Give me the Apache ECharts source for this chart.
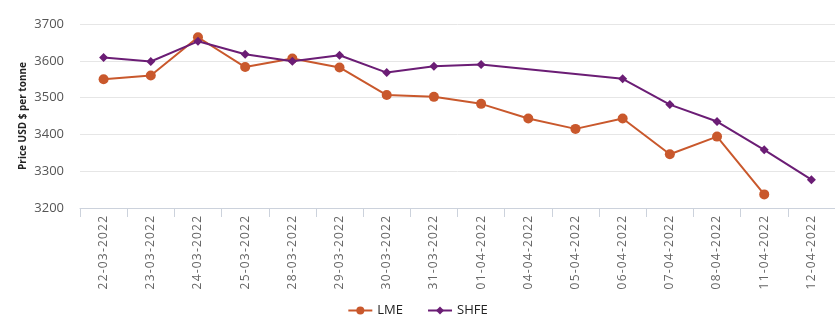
<!DOCTYPE html>
<html>
<head>
<meta charset="utf-8">
<title>LME vs SHFE</title>
<script src="https://cdn.jsdelivr.net/npm/echarts@6/dist/echarts.min.js"></script>
<style>
    html, body { margin: 0; padding: 0; background: #fff; }
    #price_chart { width: 835px; height: 328px; }
</style>
</head>
<body>
<div id="price_chart"></div>
<script>
// Chart data
// ------------------------------

var dates = ['22-03-2022', '23-03-2022', '24-03-2022', '25-03-2022', '28-03-2022', '29-03-2022',
    '30-03-2022', '31-03-2022', '01-04-2022', '04-04-2022', '05-04-2022', '06-04-2022',
    '07-04-2022', '08-04-2022', '11-04-2022', '12-04-2022'];

var lmeValues = [3550, 3560, 3664, 3583, 3606, 3582, 3507, 3502, 3483, 3443, 3415, 3443, 3346, 3394, 3237, null];

var shfeValues = [3609, 3598, 3653, 3618, 3599, 3615, 3568, 3585, 3590, null, null, 3551, 3481, 3435, 3358, 3277];

var yTicks = { min: 3200, max: 3700, step: 100 };


// Setup chart
// ------------------------------

document.addEventListener('DOMContentLoaded', function() {
    var chart_element = document.getElementById('price_chart');
    var chart = echarts.init(chart_element);

    chart.setOption({
        animation: false,
        color: ['#C9582C', '#6B1D75'],

        textStyle: {
            fontFamily: '"Open Sans", Arial, sans-serif'
        },

        grid: {
            left: 80,
            right: 0,
            top: 24,
            bottom: 120
        },

        legend: {
            data: ['LME', 'SHFE'],
            bottom: 6,
            left: 'center',
            itemWidth: 24,
            itemHeight: 10,
            itemGap: 24,
            textStyle: {
                color: '#222',
                fontSize: 13
            }
        },

        xAxis: {
            type: 'category',
            data: dates,
            boundaryGap: true,
            axisLine: {
                lineStyle: { color: '#ccd2dc' }
            },
            axisTick: {
                show: true,
                length: 9,
                lineStyle: { color: '#ccd2dc' }
            },
            axisLabel: {
                rotate: 90,
                interval: 0,
                margin: 8,
                color: '#666',
                fontSize: 12,
                formatter: function(v) {
                    return v.split('').join('\u200A');
                }
            }
        },

        yAxis: {
            type: 'value',
            min: yTicks.min,
            max: yTicks.max,
            interval: yTicks.step,
            name: 'Price USD $ per tonne',
            nameLocation: 'middle',
            nameGap: 52,
            nameMoveOverlap: false,
            nameTextStyle: {
                fontSize: 10,
                fontWeight: 'bold',
                color: '#222'
            },
            axisLine: { show: false },
            axisTick: { show: false },
            axisLabel: {
                color: '#555',
                fontSize: 13,
                margin: 16,
                formatter: function(v) {
                    return String(v);
                }
            },
            splitLine: {
                lineStyle: { color: '#e6e6e6' }
            }
        },

        series: [
            {
                name: 'LME',
                type: 'line',
                data: lmeValues,
                symbol: 'circle',
                symbolSize: 10,
                lineStyle: { width: 2 },
                z: 2
            },
            {
                name: 'SHFE',
                type: 'line',
                data: shfeValues,
                connectNulls: true,
                symbol: 'diamond',
                symbolSize: 9,
                lineStyle: { width: 2 },
                z: 3
            }
        ]
    });
});
</script>
</body>
</html>
